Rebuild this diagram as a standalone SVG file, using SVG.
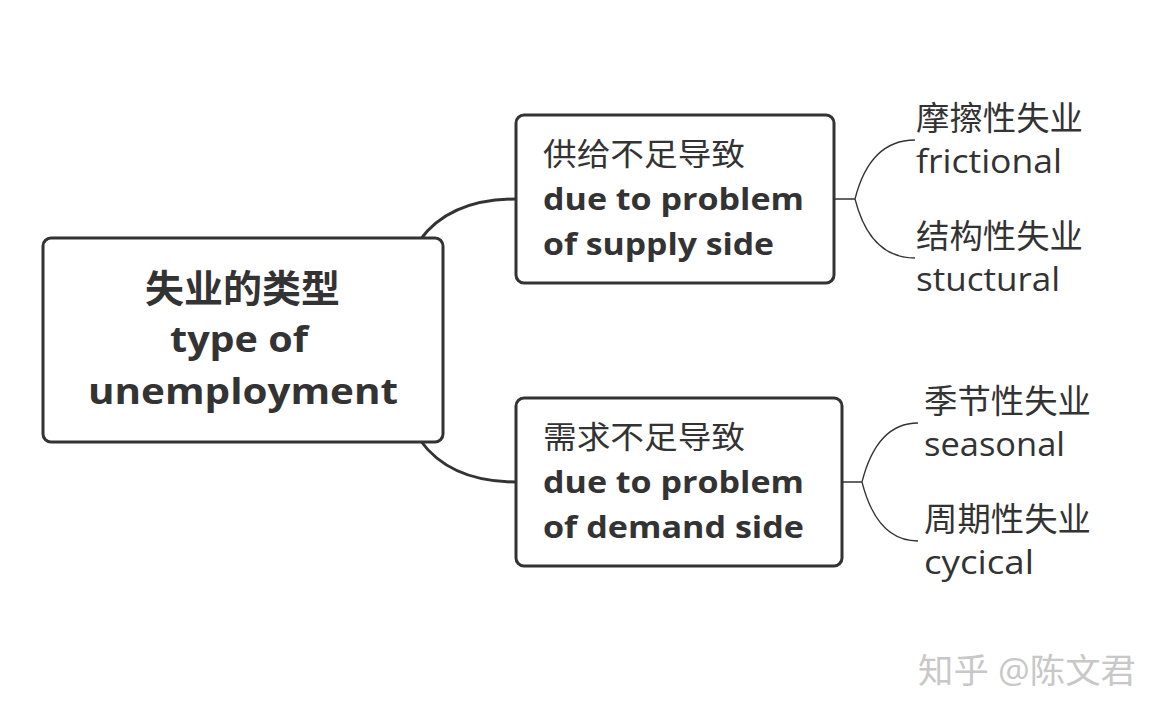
<svg xmlns="http://www.w3.org/2000/svg" width="1166" height="718" viewBox="0 0 1166 718">
<style>
.box{fill:#fff;stroke:#333;stroke-width:3}
.ln{fill:none;stroke:#333;stroke-width:3}
.thin{fill:none;stroke:#333;stroke-width:1.3}
text{font-family:"Open Sans","Noto Sans CJK SC",sans-serif;fill:#333}
.b{font-weight:bold}
</style>
<rect width="1166" height="718" fill="#fff"/>
<g id="connectors">
<path class="ln" d="M420,240 Q450,199 516,199"/>
<path class="ln" d="M420,440 Q450,482 516,482"/>
<path class="thin" d="M834,199 H855 Q870,140 915,140 M855,199 Q870,258 915,258"/>
<path class="thin" d="M842,482 H862 Q877,423 918,423 M862,482 Q877,541 918,541"/>
</g>
<g id="root">
<rect class="box" x="43" y="238" width="400" height="204" rx="8"/>
<text x="145" y="302" font-size="38" class="b" textLength="195" lengthAdjust="spacingAndGlyphs">失业的类型</text>
<text x="170" y="352" font-size="36" class="b" textLength="138" lengthAdjust="spacingAndGlyphs">type of</text>
<text x="88" y="404" font-size="36" class="b" textLength="310" lengthAdjust="spacingAndGlyphs">unemployment</text>
</g>
<g id="supply">
<rect class="box" x="516" y="115" width="318" height="168" rx="8"/>
<text x="543" y="165" font-size="31" textLength="202" lengthAdjust="spacingAndGlyphs">供给不足导致</text>
<text x="543" y="210" font-size="31" class="b" textLength="261" lengthAdjust="spacingAndGlyphs">due to problem</text>
<text x="543" y="255" font-size="31" class="b" textLength="231" lengthAdjust="spacingAndGlyphs">of supply side</text>
</g>
<g id="demand">
<rect class="box" x="516" y="398" width="326" height="168" rx="8"/>
<text x="543" y="448" font-size="31" textLength="202" lengthAdjust="spacingAndGlyphs">需求不足导致</text>
<text x="543" y="493" font-size="31" class="b" textLength="261" lengthAdjust="spacingAndGlyphs">due to problem</text>
<text x="543" y="538" font-size="31" class="b" textLength="261" lengthAdjust="spacingAndGlyphs">of demand side</text>
</g>
<g id="frictional"><text x="916" y="130" font-size="33" textLength="167" lengthAdjust="spacingAndGlyphs">摩擦性失业</text><text x="916" y="173" font-size="33" textLength="146" lengthAdjust="spacingAndGlyphs">frictional</text></g>
<g id="structural"><text x="916" y="248" font-size="33" textLength="167" lengthAdjust="spacingAndGlyphs">结构性失业</text><text x="916" y="291" font-size="33" textLength="144" lengthAdjust="spacingAndGlyphs">stuctural</text></g>
<g id="seasonal"><text x="924" y="413" font-size="33" textLength="167" lengthAdjust="spacingAndGlyphs">季节性失业</text><text x="924" y="456" font-size="33" textLength="141" lengthAdjust="spacingAndGlyphs">seasonal</text></g>
<g id="cyclical"><text x="924" y="531" font-size="33" textLength="167" lengthAdjust="spacingAndGlyphs">周期性失业</text><text x="924" y="574" font-size="33" textLength="110" lengthAdjust="spacingAndGlyphs">cycical</text></g>
<text x="918" y="683" font-size="34" style="fill:#c8c8c8" textLength="218" lengthAdjust="spacingAndGlyphs">知乎 @陈文君</text>
</svg>
